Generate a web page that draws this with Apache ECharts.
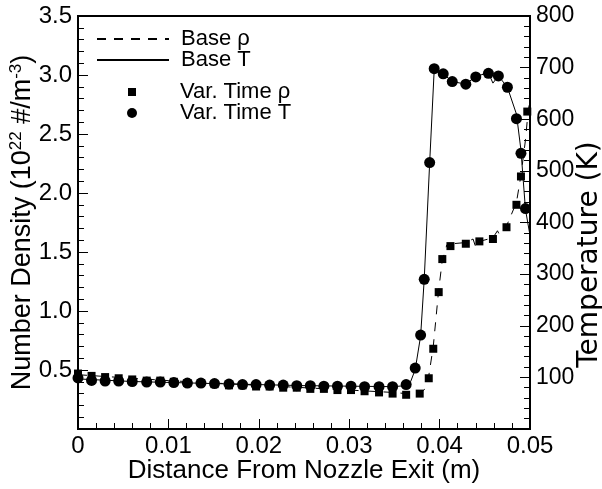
<!DOCTYPE html>
<html>
<head>
<meta charset="utf-8">
<script src="https://cdn.jsdelivr.net/npm/echarts@6/dist/echarts.min.js"></script>
<style>html,body{margin:0;padding:0;background:#fff}#c{width:602px;height:489px}</style>
</head>
<body>
<div id="c"></div>
<script>
// Var. Time T (circles), right axis
var varTX = [0, 0.0015, 0.003, 0.0045, 0.006, 0.0076, 0.0091, 0.0106, 0.0121, 0.0136, 0.0151, 0.0167, 0.0182, 0.0197, 0.0212, 0.0227, 0.0242, 0.0257, 0.0272, 0.0287, 0.0302, 0.0317, 0.0333, 0.0348, 0.0363, 0.0373, 0.0379, 0.0383, 0.0389, 0.0394, 0.0404, 0.0414, 0.0429, 0.0440, 0.0454, 0.0465, 0.0475, 0.0485, 0.0490, 0.0495];
var varT  = [99, 94, 93, 93, 92, 91, 91, 90, 89, 89, 88, 87, 86, 86, 85, 85, 84, 84, 83, 83, 83, 82, 82, 82, 86, 118, 182, 290, 516, 698, 688, 673, 668, 682, 689, 684, 662, 601, 534, 427];
// Var. Time rho (squares), left axis
var varRhoX = [0, 0.0015, 0.003, 0.0045, 0.006, 0.0076, 0.0091, 0.0106, 0.0121, 0.0136, 0.0151, 0.0167, 0.0182, 0.0197, 0.0212, 0.0227, 0.0242, 0.0257, 0.0272, 0.0287, 0.0302, 0.0317, 0.0333, 0.0348, 0.0363, 0.0378, 0.0388, 0.0393, 0.0399, 0.0403, 0.0412, 0.0429, 0.0444, 0.0459, 0.0474, 0.0485, 0.0490, 0.0497];
var varRho  = [0.47, 0.45, 0.44, 0.43, 0.42, 0.41, 0.41, 0.40, 0.39, 0.39, 0.38, 0.37, 0.37, 0.36, 0.36, 0.35, 0.35, 0.34, 0.34, 0.33, 0.33, 0.32, 0.31, 0.30, 0.29, 0.30, 0.43, 0.68, 1.16, 1.44, 1.55, 1.57, 1.59, 1.61, 1.71, 1.90, 2.14, 2.69];
// Base T (solid line), right axis
var baseTX = [0, 0.006, 0.015, 0.025, 0.0348, 0.0363, 0.0368, 0.0373, 0.0379, 0.0383, 0.0389, 0.0394, 0.0404, 0.0414, 0.0429, 0.0440, 0.0454, 0.0459, 0.0465, 0.0475, 0.0485, 0.0490, 0.0495, 0.0500];
var baseT  = [97, 92, 88, 84, 82, 84, 92, 115, 180, 290, 515, 695, 688, 673, 668, 683, 690, 670, 684, 662, 610, 540, 425, 375];
// Base rho (dashed line), left axis
var baseRhoX = [0, 0.01, 0.02, 0.03, 0.0348, 0.0363, 0.0378, 0.0384, 0.0388, 0.0393, 0.0399, 0.0403, 0.0408, 0.0410, 0.0414, 0.0429, 0.0437, 0.0440, 0.0444, 0.0459, 0.0464, 0.0466, 0.0470, 0.0474, 0.0485, 0.0490, 0.0495, 0.0498, 0.0500];
var baseRho  = [0.46, 0.41, 0.37, 0.33, 0.31, 0.30, 0.30, 0.34, 0.45, 0.70, 1.18, 1.43, 1.56, 1.52, 1.57, 1.58, 1.61, 1.54, 1.59, 1.62, 1.68, 1.65, 1.67, 1.72, 1.92, 2.15, 2.45, 2.70, 2.78];
// axis ticks
var xTicks = [0, 0.01, 0.02, 0.03, 0.04, 0.05];
var rhoTicks = [0.5, 1.0, 1.5, 2.0, 2.5, 3.0, 3.5];
var tTicks = [100, 200, 300, 400, 500, 600, 700, 800];

function pairs(xs, ys) { return xs.map(function (x, i) { return [x, ys[i]]; }); }

var FONT = "'Liberation Sans', Arial, sans-serif";
var axisLine = { show: true, lineStyle: { color: '#000', width: 2 } };
var legText = { color: '#000', fontFamily: FONT, fontSize: 22, lineHeight: 24 };
function legTextPad(p) { return Object.assign({ padding: [0, 0, 0, p] }, legText); }

var chart = echarts.init(document.getElementById('c'), null, { renderer: 'canvas' });
chart.setOption({
  animation: false,
  backgroundColor: '#fff',
  grid: { left: 78, right: 72, top: 16, bottom: 60, outerBoundsMode: 'none', containLabel: false,
    show: true, borderColor: '#000', borderWidth: 2, backgroundColor: 'transparent' },
  xAxis: {
    type: 'value', min: xTicks[0], max: xTicks[xTicks.length - 1], interval: 0.01,
    axisLine: axisLine,
    axisTick: { inside: true, length: 10, lineStyle: { color: '#000', width: 1 } },
    minorTick: { show: true, splitNumber: 5, length: 6, lineStyle: { color: '#000', width: 1 } },
    splitLine: { show: false },
    axisLabel: { color: '#000', fontFamily: FONT, fontSize: 24, margin: 5 },
    name: 'Distance From Nozzle Exit (m)', nameLocation: 'middle', nameGap: 29, nameMoveOverlap: false,
    nameTextStyle: { color: '#000', fontFamily: FONT, fontSize: 26 }
  },
  yAxis: [{
    type: 'value', position: 'left', min: 0, max: rhoTicks[rhoTicks.length - 1], interval: 0.5,
    axisLine: axisLine,
    axisTick: { inside: true, length: 10, lineStyle: { color: '#000', width: 1 } },
    minorTick: { show: true, splitNumber: 5, length: 6, lineStyle: { color: '#000', width: 1 } },
    splitLine: { show: false },
    axisLabel: { color: '#000', fontFamily: FONT, fontSize: 24, margin: 6, showMinLabel: false,
      formatter: function (v) { return v.toFixed(1); } },
    name: 'Number Density (10{sup|22} #/m{sup|-3})', nameLocation: 'middle', nameGap: 40, nameMoveOverlap: false,
    nameTextStyle: { color: '#000', fontFamily: FONT, fontSize: 27, lineHeight: 30,
      rich: { sup: { fontFamily: FONT, fontSize: 17, color: '#000', verticalAlign: 'top', lineHeight: 18 } } }
  }, {
    type: 'value', position: 'right', min: 0, max: tTicks[tTicks.length - 1], interval: 100,
    axisLine: axisLine,
    axisTick: { inside: true, length: 10, lineStyle: { color: '#000', width: 1 } },
    minorTick: { show: true, splitNumber: 5, length: 6, lineStyle: { color: '#000', width: 1 } },
    splitLine: { show: false },
    axisLabel: { color: '#000', fontFamily: FONT, fontSize: 23, margin: 6, showMinLabel: false },
    name: 'Temperature (K)', nameLocation: 'middle', nameGap: 46, nameMoveOverlap: false,
    nameTextStyle: { color: '#000', fontFamily: "'DejaVu Sans', sans-serif", fontSize: 28, padding: [0, 64, 0, 0] }
  }],
  legend: [
    { data: ['Base ρ'], left: 96, top: 27, padding: 0, itemWidth: 72, itemHeight: 10,
      itemStyle: { opacity: 0 }, textStyle: legTextPad(7) },
    { data: ['Base T'], left: 96, top: 48, padding: 0, itemWidth: 72, itemHeight: 10,
      itemStyle: { opacity: 0 }, textStyle: legTextPad(7) },
    { data: [{ name: 'Var. Time ρ', icon: 'rect' }], left: 128, top: 80, padding: 0, itemWidth: 8, itemHeight: 8,
      textStyle: legTextPad(39) },
    { data: [{ name: 'Var. Time T', icon: 'circle' }], left: 127, top: 101, padding: 0, itemWidth: 10, itemHeight: 10,
      textStyle: legTextPad(38) }
  ],
  series: [
    { name: 'Base ρ', type: 'line', yAxisIndex: 0, data: pairs(baseRhoX, baseRho), symbol: 'none', showSymbol: false,
      lineStyle: { color: '#000', width: 1, type: [9, 8] }, itemStyle: { color: '#000' } },
    { name: 'Base T', type: 'line', yAxisIndex: 1, data: pairs(baseTX, baseT), symbol: 'none', showSymbol: false,
      lineStyle: { color: '#000', width: 1 }, itemStyle: { color: '#000' } },
    { name: 'Var. Time ρ', type: 'scatter', yAxisIndex: 0, data: pairs(varRhoX, varRho), symbol: 'rect', symbolSize: 8,
      itemStyle: { color: '#000', opacity: 1 } },
    { name: 'Var. Time T', type: 'scatter', yAxisIndex: 1, data: pairs(varTX, varT), symbol: 'circle', symbolSize: 11,
      itemStyle: { color: '#000', opacity: 1 } }
  ]
});
</script>
</body>
</html>
